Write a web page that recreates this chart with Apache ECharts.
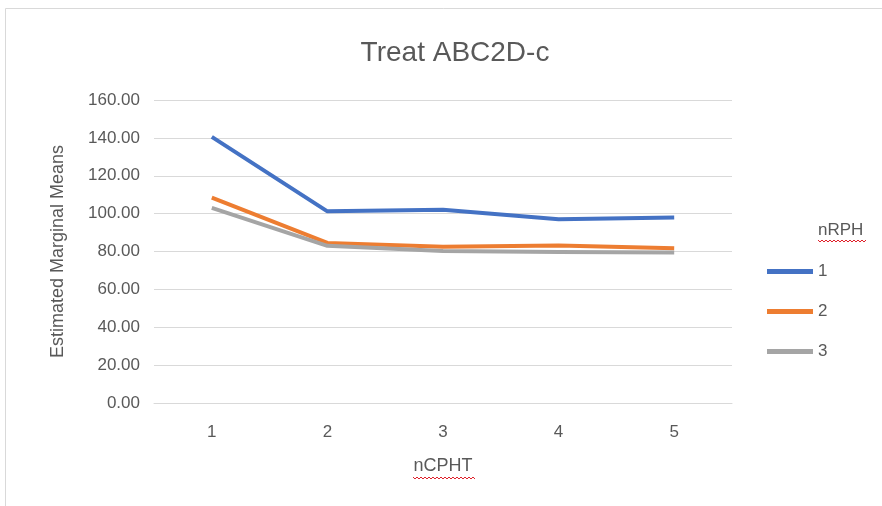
<!DOCTYPE html>
<html>
<head>
  <meta charset="utf-8">
  <title>Treat ABC2D-c</title>
  <script src="https://cdn.jsdelivr.net/npm/echarts@6/dist/echarts.min.js"></script>
  <style>
    html, body { margin: 0; padding: 0; background: #fff; }
    #chart { width: 882px; height: 506px; }
  </style>
</head>
<body>
<div id="chart"></div>
<script>
  // data
  var categories = ['1', '2', '3', '4', '5'];
  var seriesNames = ['1', '2', '3'];
  var nrph1 = [140.5, 101.2, 102.0, 97.0, 98.0];
  var nrph2 = [108.5, 84.5, 82.5, 83.2, 81.7];
  var nrph3 = [103.0, 83.0, 80.2, 79.8, 79.5];
  var colors = ['#4472C4', '#ED7D31', '#A5A5A5'];

  var font = '"Liberation Sans", Arial, sans-serif';
  var chart = echarts.init(document.getElementById('chart'));

  // red spell-check squiggle under a word
  function squiggle(x, y, w) {
    var pts = [];
    for (var i = 0; i <= w; i += 2) {
      pts.push([x + i, y + ((i / 2) % 2 === 0 ? 0 : 2)]);
    }
    return {
      type: 'polyline', silent: true,
      shape: { points: pts },
      style: { stroke: '#e0202a', lineWidth: 1, fill: null }
    };
  }

  function makeSeries(name, data, color) {
    return {
      name: name,
      type: 'line',
      data: data,
      symbol: 'none',
      lineStyle: { color: color, width: 4 },
      itemStyle: { color: color }
    };
  }

  chart.setOption({
    animation: false,
    color: colors,
    title: {
      text: 'Treat ABC2D-c',
      left: 450,
      textAlign: 'center',
      top: 34,
      textStyle: { fontFamily: font, fontSize: 28, fontWeight: 'normal', color: '#595959' }
    },
    grid: { left: 154, right: 150, top: 100, bottom: 103, containLabel: false },
    legend: {
      orient: 'vertical',
      left: 767,
      top: 263,
      padding: 0,
      itemWidth: 46,
      itemHeight: 5,
      itemGap: 23,
      icon: 'rect',
      data: seriesNames,
      textStyle: { fontFamily: font, fontSize: 17, color: '#595959' }
    },
    xAxis: {
      type: 'category',
      data: categories,
      boundaryGap: true,
      name: 'nCPHT',
      nameLocation: 'middle',
      nameGap: 54,
      nameTextStyle: { fontFamily: font, fontSize: 18, color: '#595959' },
      axisLine: { show: true, lineStyle: { color: '#d9d9d9', width: 1 } },
      axisTick: { show: false },
      axisLabel: { fontFamily: font, fontSize: 17, color: '#595959', margin: 21 }
    },
    yAxis: {
      type: 'value',
      min: 0,
      max: 160,
      interval: 20,
      name: 'Estimated Marginal Means',
      nameLocation: 'middle',
      nameGap: 87,
      nameTextStyle: { fontFamily: font, fontSize: 18, color: '#595959' },
      axisLine: { show: false },
      axisTick: { show: false },
      splitLine: { lineStyle: { color: '#d9d9d9', width: 1 } },
      axisLabel: {
        fontFamily: font, fontSize: 17, color: '#595959', margin: 14,
        formatter: function (v) { return v.toFixed(2); }
      }
    },
    graphic: [
      {
        type: 'polyline', silent: true,
        shape: { points: [[882, 8.5], [5.5, 8.5], [5.5, 506]] },
        style: { stroke: '#d9d9d9', lineWidth: 1, fill: null }
      },
      {
        type: 'text', left: 818, top: 222, silent: true,
        style: { text: 'nRPH', fontFamily: font, fontSize: 17, fill: '#595959' }
      },
      squiggle(818, 240, 48),
      squiggle(413, 477, 62)
    ],
    series: [
      makeSeries(seriesNames[0], nrph1, colors[0]),
      makeSeries(seriesNames[1], nrph2, colors[1]),
      makeSeries(seriesNames[2], nrph3, colors[2])
    ]
  });
</script>
</body>
</html>
